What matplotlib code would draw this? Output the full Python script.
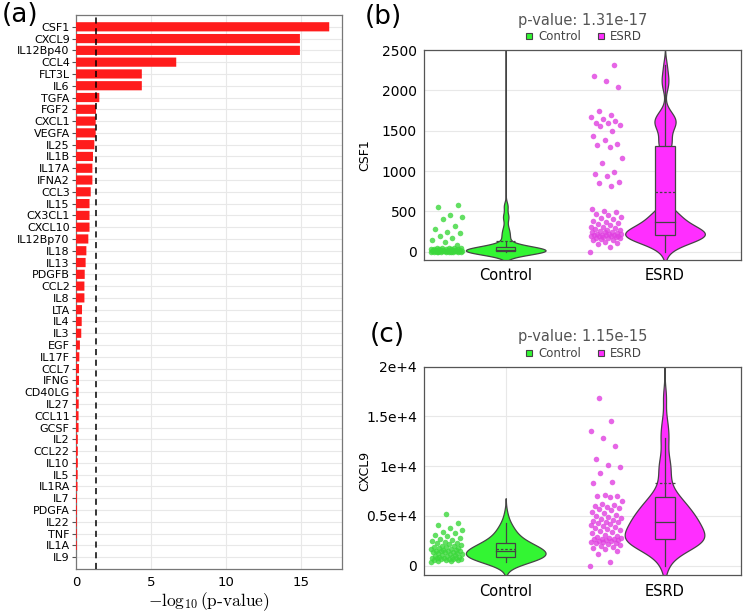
import numpy as np
import matplotlib.pyplot as plt
from matplotlib.patches import Rectangle
from matplotlib.lines import Line2D

plt.rcParams['font.family'] = ['DejaVu Sans']
plt.rcParams['mathtext.fontset'] = 'cm'

# panel (a): -log10(p) for each cytokine, listed top to bottom
cytokines = ['CSF1', 'CXCL9', 'IL12Bp40', 'CCL4', 'FLT3L', 'IL6', 'TGFA', 'FGF2',
             'CXCL1', 'VEGFA', 'IL25', 'IL1B', 'IL17A', 'IFNA2', 'CCL3', 'IL15',
             'CX3CL1', 'CXCL10', 'IL12Bp70', 'IL18', 'IL13', 'PDGFB', 'CCL2', 'IL8',
             'LTA', 'IL4', 'IL3', 'EGF', 'IL17F', 'CCL7', 'IFNG', 'CD40LG', 'IL27',
             'CCL11', 'GCSF', 'IL2', 'CCL22', 'IL10', 'IL5', 'IL1RA', 'IL7', 'PDGFA',
             'IL22', 'TNF', 'IL1A', 'IL9']
neglog_p = [16.85, 14.9, 14.9, 6.67, 4.38, 4.38, 1.55, 1.33,
            1.31, 1.31, 1.22, 1.13, 1.09, 1.09, 0.98, 0.9,
            0.9, 0.9, 0.82, 0.69, 0.64, 0.58, 0.56, 0.56,
            0.4, 0.38, 0.35, 0.26, 0.22, 0.2, 0.2, 0.18, 0.18,
            0.17, 0.17, 0.12, 0.12, 0.12, 0.11, 0.1, 0.06, 0.06,
            0.05, 0.05, 0.05, 0.0]
p_cutoff = 0.05
a_xticks = [0, 5, 10, 15]

# panels (b) and (c): measured levels per group
groups = ['Control', 'ESRD']

csf1_control = [0, 0, 0, 1, 1, 1, 1, 2, 2, 2, 2, 3, 3, 3, 3,
                4, 5, 6, 7, 8, 9, 10, 11, 12, 13, 14, 15, 16, 17, 19,
                21, 23, 25, 27, 29, 31, 33, 35, 37, 39, 41, 43, 45, 48, 50,
                80, 115, 150, 175, 195, 230, 245, 285, 320, 410, 430, 455, 555, 575, 2800]
csf1_esrd = [0, 60, 95, 110, 125, 140, 150, 160, 165, 170, 175, 180, 185, 190, 195, 198, 200, 201, 202,
             205, 210, 215, 220, 225, 230, 238, 245, 250, 258, 265, 272, 280, 290, 300, 310, 325, 340, 360,
             370, 385, 400, 415, 430, 450, 470, 490, 510, 525,
             815, 850, 870, 935, 960, 990, 1100, 1165, 1300,
             1320, 1335, 1380, 1430, 1490, 1560, 1575, 1590, 1600, 1615, 1650, 1670, 1690, 1740,
             2040, 2110, 2180, 2310, 4300]
csf1_pvalue = '1.31e-17'
csf1_ticks = [0, 500, 1000, 1500, 2000, 2500]
csf1_ticklabels = ['0', '500', '1000', '1500', '2000', '2500']

cxcl9_control = [380, 450, 500, 550, 600, 620, 650, 680, 700, 720, 750, 780, 800, 820, 840,
                 850, 900, 950, 1000, 1050, 1100, 1150, 1200, 1250, 1300, 1330, 1360, 1400, 1440, 1470,
                 1490, 1520, 1560, 1600, 1650, 1700, 1750, 1800, 1850, 1900, 1950, 2000, 2080, 2150, 2240,
                 2280, 2350, 2450, 2550, 2650, 2800, 2950, 3100, 3250, 3400, 3590, 3800, 4090, 4320, 5160]
cxcl9_esrd = [0, 400, 1200, 1500, 1650, 1800, 1900, 2000, 2100, 2200, 2250, 2300, 2350, 2400, 2450,
              2500, 2550, 2600, 2640,
              2660, 2700, 2750, 2800, 2900, 3000, 3100, 3250, 3400, 3500, 3600, 3700, 3800, 3900,
              4000, 4100, 4200, 4300, 4350,
              4370, 4450, 4550, 4650, 4750, 4850, 5000, 5100, 5250, 5400, 5550, 5700, 5800, 5900,
              6000, 6100, 6200, 6500, 6900,
              7040, 7050, 7100, 8300, 8380, 9290, 9900, 10120, 10690, 12060, 12800, 13540, 14570, 16880,
              24000, 31000, 45000, 68000, 112000]
cxcl9_pvalue = '1.15e-15'
cxcl9_ticks = [0, 5000, 10000, 15000, 20000]
cxcl9_ticklabels = ['0', '0.5e+4', '1e+4', '1.5e+4', '2e+4']

GREEN = '#33f533'
MAGENTA = '#ff2eff'
LINE = '#444444'
GRID = '#e8e8e8'


def jitter(n, width=0.1):
    # deterministic spread of the strip points
    return ((np.arange(n) * 0.6180339887) % 1.0 - 0.5) * 2 * width


def violin(ax, data, pos, color, ptcolor, bw):
    data = np.asarray(data, float)
    grid = np.linspace(data.min() - 2.5 * bw, data.max() + 2.5 * bw, 6000)
    dens = np.exp(-0.5 * ((grid[:, None] - data[None, :]) / bw) ** 2).sum(axis=1)
    w = dens / dens.max() * 0.25
    ax.fill_betweenx(grid, pos - w, pos + w, facecolor=color, edgecolor=LINE, lw=0.9, zorder=2)

    q1, med, q3 = np.percentile(data, [25, 50, 75])
    iqr = q3 - q1
    lo = data[data >= q1 - 1.5 * iqr].min()
    hi = data[data <= q3 + 1.5 * iqr].max()
    hb = 0.06
    ax.plot([pos, pos], [lo, q1], color=LINE, lw=0.9, zorder=3)
    ax.plot([pos, pos], [q3, hi], color=LINE, lw=0.9, zorder=3)
    ax.add_patch(Rectangle((pos - hb, q1), 2 * hb, q3 - q1, facecolor=color,
                           edgecolor=LINE, lw=0.9, zorder=3))
    ax.plot([pos - hb, pos + hb], [med, med], color=LINE, lw=0.9, zorder=4)
    ax.plot([pos - hb, pos + hb], [data.mean()] * 2, color=LINE, lw=0.9,
            ls=(0, (2, 1.5)), zorder=4)

    ax.scatter(pos - 0.37 + jitter(len(data)), data, s=16, color=ptcolor,
               alpha=0.8, lw=0, zorder=4)


def group_panel(ax, control, esrd, pvalue, ylabel, ymin, ticks, ticklabels, bws):
    violin(ax, control, 0, GREEN, '#3cd83c', bws[0])
    violin(ax, esrd, 1, MAGENTA, '#e040e0', bws[1])
    ax.set_xlim(-0.513, 1.477)
    ax.set_ylim(ymin, ticks[-1])
    ax.set_xticks([0, 1])
    ax.set_xticklabels(groups, fontsize=10.5)
    ax.set_yticks(ticks)
    ax.set_yticklabels(ticklabels, fontsize=10)
    ax.tick_params(axis='x', length=0, pad=6)
    ax.tick_params(axis='y', length=0, pad=5)
    ax.grid(True, color=GRID, lw=0.8)
    ax.set_axisbelow(True)
    for s in ax.spines.values():
        s.set_color('#555555')
        s.set_linewidth(0.9)
    ax.set_ylabel(ylabel, fontsize=9)
    ax.yaxis.set_label_coords(-53 / 317, 0.5)
    ax.annotate('p-value: ' + pvalue, xy=(0.5, 1), xycoords='axes fraction',
                xytext=(0, 30 * 0.72), textcoords='offset points',
                ha='center', va='center', fontsize=10.5, color='#555555')
    handles = [Line2D([], [], ls='', marker='s', markersize=5, markerfacecolor=GREEN,
                      markeredgecolor=LINE, markeredgewidth=0.8),
               Line2D([], [], ls='', marker='s', markersize=5, markerfacecolor=MAGENTA,
                      markeredgecolor=LINE, markeredgewidth=0.8)]
    leg = ax.legend(handles, groups, loc='center', bbox_to_anchor=(0.5, 1 + 13 / 210),
                    ncol=2, frameon=False, fontsize=8.5, handletextpad=0.3,
                    columnspacing=1.2, borderpad=0, handlelength=1)
    for t in leg.get_texts():
        t.set_color('#444444')


fig = plt.figure(figsize=(7.48, 6.12), dpi=100)
ax_a = fig.add_axes([76 / 748, 1 - 569 / 612, 266 / 748, 554 / 612])
ax_b = fig.add_axes([424 / 748, 1 - 260 / 612, 317 / 748, 210 / 612])
ax_c = fig.add_axes([424 / 748, 1 - 575.3 / 612, 317 / 748, 208.6 / 612])

# (a) bar chart
ypos = np.arange(len(cytokines))[::-1]
ax_a.barh(ypos, neglog_p, height=0.78, color='#ff1c1c', zorder=3, snap=False)
ax_a.axvline(-np.log10(p_cutoff), color='black', lw=1.1, ls=(0, (4, 3)), zorder=4)
ax_a.set_yticks(ypos)
ax_a.set_yticklabels(cytokines, fontsize=8)
ax_a.set_ylim(-1, len(cytokines))
ax_a.set_xlim(0, 17.7)
ax_a.set_xticks(a_xticks)
ax_a.set_xticklabels([str(t) for t in a_xticks], fontsize=9.5)
ax_a.tick_params(axis='y', length=3, pad=1.5, color='#555555')
ax_a.tick_params(axis='x', length=0, pad=5)
ax_a.grid(True, color=GRID, lw=0.8)
ax_a.set_axisbelow(True)
for s in ax_a.spines.values():
    s.set_color('#777777')
    s.set_linewidth(0.9)
ax_a.set_xlabel(r'$-\log_{10}(\mathrm{p\text{-}value})$', fontsize=12.5)
ax_a.xaxis.set_label_coords(0.5, -32.7 / 554)
ax_a.xaxis.label.set_verticalalignment('center')

# (b) CSF1, (c) CXCL9
group_panel(ax_b, csf1_control, csf1_esrd, csf1_pvalue, 'CSF1', -103,
            csf1_ticks, csf1_ticklabels, (50, 90))
group_panel(ax_c, cxcl9_control, cxcl9_esrd, cxcl9_pvalue, 'CXCL9', -965,
            cxcl9_ticks, cxcl9_ticklabels, (650, 1000))

fig.text(2 / 748, 1 - 15 / 612, '(a)', fontsize=19, va='center', ha='left')
fig.text(365 / 748, 1 - 17.5 / 612, '(b)', fontsize=19, va='center', ha='left')
fig.text(370 / 748, 1 - 335 / 612, '(c)', fontsize=19, va='center', ha='left')

fig.savefig('out.png', dpi=100)
